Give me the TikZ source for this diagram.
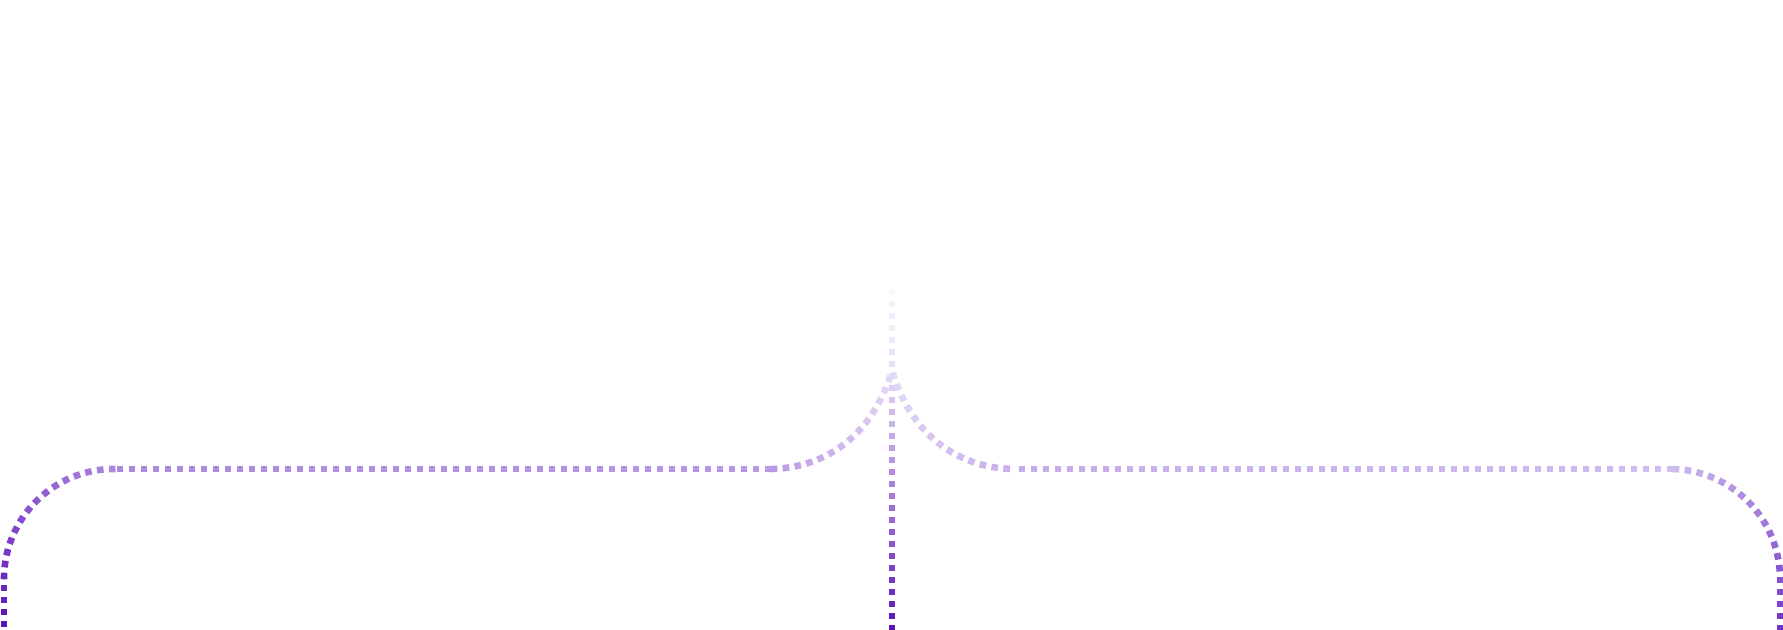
\documentclass[tikz,border=0pt]{standalone}
\usetikzlibrary{decorations.markings}
\definecolor{cdark}{HTML}{5A0FB8}
\definecolor{cleftmid}{HTML}{AE88DF}
\definecolor{cleftin}{HTML}{BA98E4}
\definecolor{ccenter}{HTML}{E6DCF6}
\definecolor{crightin}{HTML}{C6ACEA}
\definecolor{crightmid}{HTML}{D0BCEE}
\definecolor{crightend}{HTML}{7033C8}
\definecolor{cvtop}{HTML}{FBF9FE}
\tikzset{
  sqdots/.style 2 args={
    decoration={markings,
      mark=between positions 3pt and 1 step 6pt with {
        \pgfmathtruncatemacro\fr{min(100,max(0,\pgfkeysvalueof{/pgf/decoration/mark info/distance from start}/\pgfdecoratedpathlength*100))}
        \fill[color=#2!\fr!#1] (-1.65pt,-1.65pt) rectangle (1.65pt,1.65pt);
      }},
    postaction={decorate}}
}
\begin{document}
\begin{tikzpicture}[x=0.5pt,y=-0.5pt]
\useasboundingbox (0,0) rectangle (1783,630);
% named points
\coordinate (lbot) at (4,630);
\coordinate (lcs) at (4,579);
\coordinate (lce) at (114,469);
\coordinate (lhe) at (768,469);
\coordinate (mid) at (892,370);
\coordinate (rhs) at (1016,469);
\coordinate (rce) at (1670,469);
\coordinate (rcs) at (1780,579);
\coordinate (rbot) at (1780,630);
\coordinate (vtop) at (892,286);
\coordinate (vbot) at (892,630);
% left branch
\path[sqdots={cdark}{cleftmid}] (lbot) -- (lcs) arc[start angle=180,end angle=270,radius=110];
\path[sqdots={cleftmid}{cleftin}] (lce) -- (lhe);
\path[sqdots={cleftin}{ccenter}] (lhe) .. controls (830,469) and (875,430) .. (mid);
% right branch
\path[sqdots={ccenter}{crightin}] (mid) .. controls (909,430) and (954,469) .. (rhs);
\path[sqdots={crightin}{crightmid}] (rhs) -- (rce);
\path[sqdots={crightmid}{crightend}] (rce) arc[start angle=270,end angle=360,radius=110] -- (rbot);
% center vertical
\path[sqdots={cvtop}{ccenter}] (vtop) -- (mid);
\path[sqdots={ccenter}{cdark}] (mid) -- (vbot);
\end{tikzpicture}
\end{document}
